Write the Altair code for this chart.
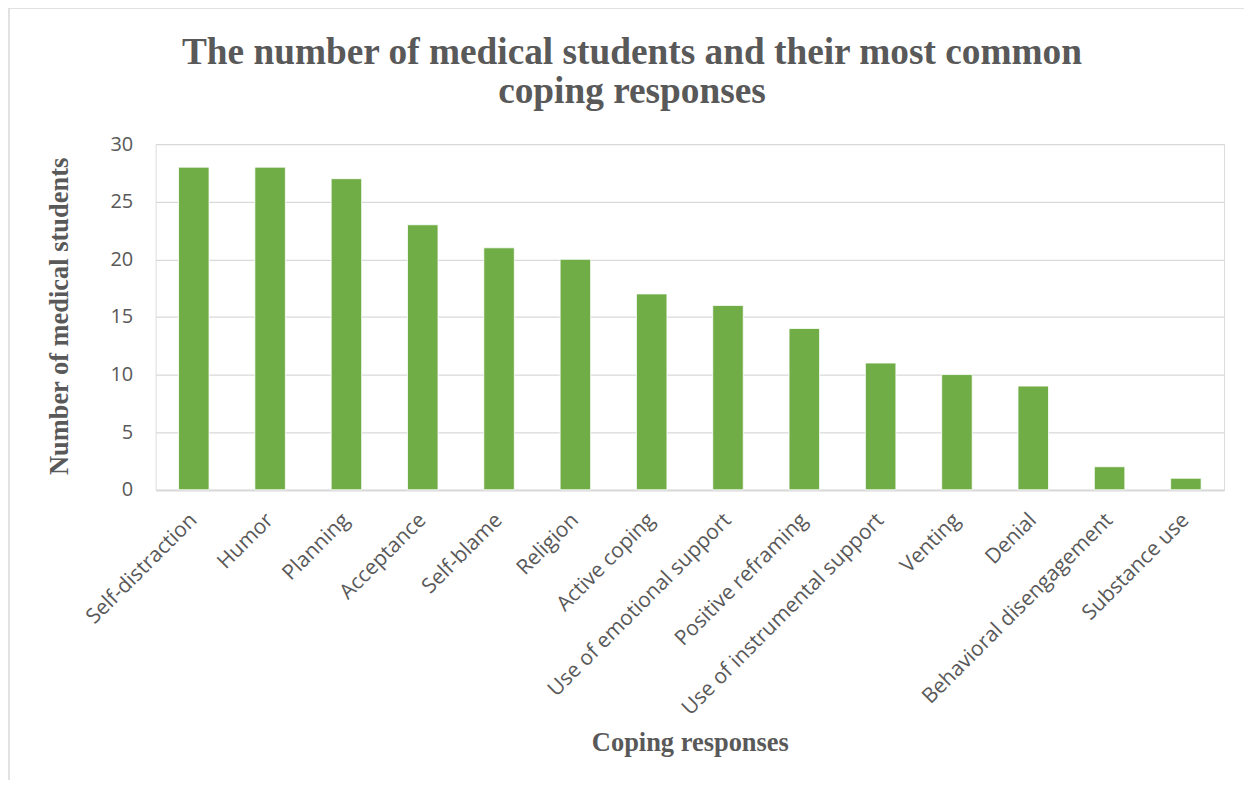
import altair as alt
import pandas as pd

categories = ["Self-distraction", "Humor", "Planning", "Acceptance", "Self-blame",
              "Religion", "Active coping", "Use of emotional support",
              "Positive reframing", "Use of instrumental support", "Venting",
              "Denial", "Behavioral disengagement", "Substance use"]
values = [28, 28, 27, 23, 21, 20, 17, 16, 14, 11, 10, 9, 2, 1]

df = pd.DataFrame({"cat": categories, "n": values})

W, H = 1071, 346.5

bars = alt.Chart(df).mark_bar(color="#70AD47", stroke="#ffffff", strokeWidth=0.8).encode(
    x=alt.X("cat:N", sort=categories,
            scale=alt.Scale(paddingInner=0.6, paddingOuter=0.3),
            axis=alt.Axis(title="Coping responses", labelAngle=-45, labelAlign="right",
                          labelBaseline="middle", labelPadding=27, ticks=False, labelLimit=0,
                          domain=True, domainColor="#d9d9d9", domainWidth=1.3,
                          labelFont="Open Sans", labelFontSize=21, labelColor="#595959",
                          titleFont="Liberation Serif", titleFontSize=26.5, titleFontWeight="bold",
                          titleColor="#595959", titleX=W / 2, titleY=253,
                          titleBaseline="middle", titleAlign="center")),
    y=alt.Y("n:Q", scale=alt.Scale(domain=[0, 30], nice=False),
            axis=alt.Axis(title="Number of medical students", values=[0, 5, 10, 15, 20, 25, 30],
                          ticks=False, domain=False, gridColor="#d9d9d9", gridWidth=1.3,
                          labelPadding=23, labelFont="Open Sans", labelFontSize=20,
                          labelColor="#595959",
                          titleFont="Liberation Serif", titleFontSize=26.5, titleFontWeight="bold",
                          titleColor="#595959", titleX=-96, titleY=H / 2 - 1,
                          titleBaseline="middle", titleAlign="center", titleAngle=-90)),
)

border = alt.Chart(pd.DataFrame({"a": [0]})).mark_rect(
    fill="transparent", stroke="#d9d9d9", strokeWidth=1.5, clip=False
).encode(x=alt.value(-147), x2=alt.value(1094), y=alt.value(-136.5), y2=alt.value(660))

chart = alt.layer(border, bars).properties(
    width=W, height=H,
    title=alt.TitleParams(
        text=["The number of medical students and their most common", "coping responses"],
        font="Liberation Serif", fontSize=37.4, fontWeight="bold", color="#595959",
        anchor="middle", frame="group", dx=-58, offset=-103, lineHeight=38.5),
    autosize=alt.AutoSizeParams(type="none"),
    padding={"left": 148, "top": 135.5, "right": 20, "bottom": 290},
).configure_view(stroke=None).configure(background="white")

chart.save("out.html", embed_options={"renderer": "svg", "actions": False})
